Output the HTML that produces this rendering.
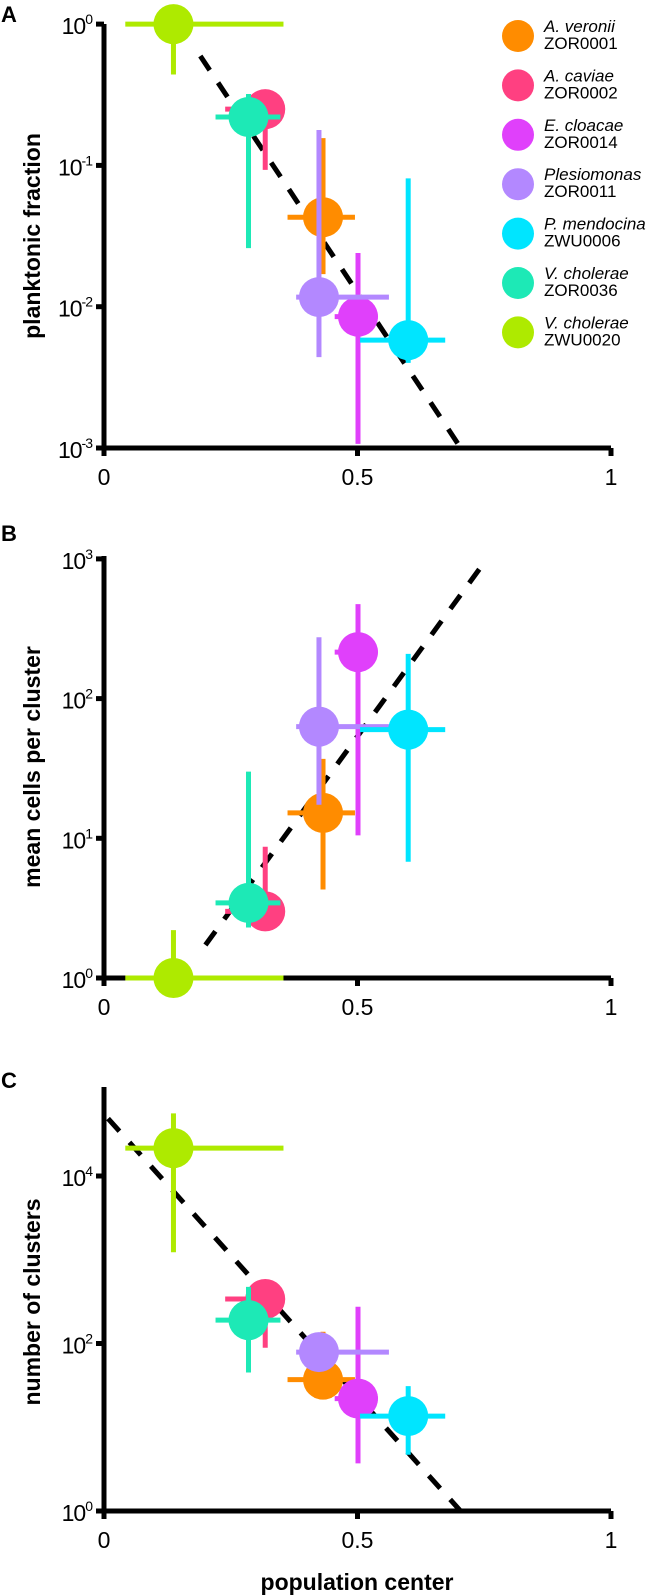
<!DOCTYPE html>
<html><head><meta charset="utf-8"><style>
body{margin:0;background:#fff}
svg{display:block;font-family:"Liberation Sans",Arial,sans-serif}
</style></head><body>
<svg id="fig" width="666" height="1596" viewBox="0 0 666 1596"></svg>
<script>
const species=["A. veronii","A. caviae","E. cloacae","Plesiomonas","P. mendocina","V. cholerae","V. cholerae"];
const strains=["ZOR0001","ZOR0002","ZOR0014","ZOR0011","ZWU0006","ZOR0036","ZWU0020"];
const colors=["#ff8c00","#ff4081","#e040fb","#b388ff","#00e5ff","#1de9b6","#aeea00"];
const xCenter=[0.432,0.318,0.501,0.424,0.600,0.285,0.137];
const xLow=[0.362,0.239,0.455,0.379,0.505,0.220,0.042];
const xHigh=[0.495,0.330,0.540,0.562,0.673,0.348,0.354];
// panel A: planktonic fraction
const aVal=[0.043,0.25,0.0085,0.0117,0.0058,0.22,1.0];
const aLow=[0.017,0.093,0.00107,0.0044,0.004,0.026,0.44];
const aHigh=[0.156,0.34,0.024,0.178,0.081,0.32,1.0];
// panel B: mean cells per cluster
const bVal=[15.2,3.0,215,63,60,3.45,1.0];
const bLow=[4.3,2.6,10.5,17.4,6.8,2.3,1.0];
const bHigh=[37,8.7,475,275,209,30,2.2];
// panel C: number of clusters
const cVal=[37,340,22,79,13.6,190,21500];
const cLow=[37,89,3.7,79,4.7,45,1230];
const cHigh=[138,340,275,79,31,475,56000];
// fits: log10(y)=a+b*x over [x0,x1]
const fitA=[0.80,-5.4,0.19,0.704];
const fitB=[-0.76,4.98,0.2,0.755];
const fitC=[4.74,-6.74,0.008,0.704];

const NS="http://www.w3.org/2000/svg";
const svg=document.getElementById('fig');
function el(tag,attrs,parent){const e=document.createElementNS(NS,tag);for(const k in attrs)e.setAttribute(k,attrs[k]);(parent||svg).appendChild(e);return e;}
const X0=104,X1=611;
function xs(v){return X0+(X1-X0)*v;}

function panel(cfg){
  const g=el('g',{});
  
  
  const ys=v=>cfg.y0-(Math.log10(v)-cfg.minDec)*cfg.dec;
  const [a,b,f0,f1]=cfg.fit;
  const ln=el('line',{x1:xs(f0),y1:cfg.y0-(a+b*f0-cfg.minDec)*cfg.dec,x2:xs(f1),y2:cfg.y0-(a+b*f1-cfg.minDec)*cfg.dec,stroke:'#000','stroke-width':5,'stroke-dasharray':'17,15'},g);
  
  
  const ax=el('path',{d:`M${X0},${cfg.yTop} V${cfg.y0} H${X1}`,stroke:'#000','stroke-width':5,fill:'none'},g);
  
  
  [0,0.5,1].forEach((t,i)=>{
    el('line',{x1:xs(t),y1:cfg.y0,x2:xs(t),y2:cfg.y0+8,stroke:'#000','stroke-width':5},g);
    const tx=el('text',{x:xs(t),y:cfg.y0+37,'font-size':23,'text-anchor':'middle'},g);
    tx.textContent=["0","0.5","1"][i];
    
    
  });
  cfg.ticks.forEach(d=>{
    const y=cfg.y0-(d-cfg.minDec)*cfg.dec;
    el('line',{x1:X0-8,y1:y,x2:X0,y2:y,stroke:'#000','stroke-width':5},g);
    const tx=el('text',{x:X0-12,y:y+10,'font-size':23,'text-anchor':'end','letter-spacing':'-1'},g);
    
    
    tx.appendChild(document.createTextNode('10'));
    const s=el('tspan',{dy:-10,'font-size':14},tx);s.textContent=String(d);
  });
  const yt=el('text',{x:0,y:0,'font-size':23,'font-weight':'bold','text-anchor':'middle',transform:`translate(${cfg.titleX},${cfg.titleY}) rotate(-90)`},g);
  yt.textContent=cfg.title;
  
  
  const lt=el('text',{x:1,y:cfg.letterY,'font-size':22,'font-weight':'bold'},g);
  lt.textContent=cfg.letter;
  
  
  for(let i=0;i<colors.length;i++){
    const sg=el('g',{},g);
    
    
    const cx=xs(xCenter[i]),cy=ys(cfg.val[i]);
    const yl=Math.min(ys(cfg.low[i]),cfg.y0),yh=ys(cfg.high[i]);
    el('line',{x1:cx,y1:yl,x2:cx,y2:yh,stroke:colors[i],'stroke-width':5},sg);
    el('line',{x1:xs(xLow[i]),y1:cy,x2:xs(xHigh[i]),y2:cy,stroke:colors[i],'stroke-width':5},sg);
    el('circle',{cx:cx,cy:cy,r:20,fill:colors[i]},sg);
  }
}
panel({name:'panel-a',y0:448,yTop:24,minDec:-3,dec:141.3,ticks:[-3,-2,-1,0],val:aVal,low:aLow,high:aHigh,fit:fitA,title:'planktonic fraction',titleX:40,titleY:236,letter:'A',letterY:22});
panel({name:'panel-b',y0:978,yTop:556,minDec:0,dec:139.7,ticks:[0,1,2,3],val:bVal,low:bLow,high:bHigh,fit:fitB,title:'mean cells per cluster',titleX:40,titleY:767,letter:'B',letterY:541});
panel({name:'panel-c',y0:1511,yTop:1087,minDec:0,dec:83.75,ticks:[0,2,4],val:cVal,low:cLow,high:cHigh,fit:fitC,title:'number of clusters',titleX:40,titleY:1302,letter:'C',letterY:1088});
const xt=el('text',{x:357,y:1590,'font-size':23,'font-weight':'bold','text-anchor':'middle'});
xt.textContent='population center';


const lg=el('g',{});


for(let i=0;i<colors.length;i++){
  const y=36+i*49.4;
  const e=el('g',{},lg);
  
  
  el('circle',{cx:518,cy:y,r:16,fill:colors[i]},e);
  const t1=el('text',{x:544,y:y-4,'font-size':17,'font-style':'italic'},e);t1.textContent=species[i];
  const t2=el('text',{x:544,y:y+13,'font-size':17},e);t2.textContent=strains[i];
}
</script>
</body></html>
